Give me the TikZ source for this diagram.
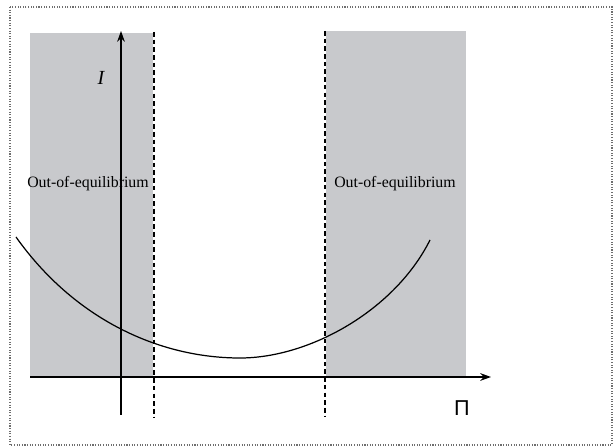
\documentclass[tikz,border=0pt]{standalone}
\usepackage{fontspec}
\setmainfont{Liberation Serif}
\newfontfamily\pifont{Liberation Sans}
\usetikzlibrary{arrows.meta}
\definecolor{zonegray}{RGB}{200,201,204}
\definecolor{framegray}{RGB}{110,110,110}

\begin{document}
\begin{tikzpicture}[
    x=0.65pt, y=-0.65pt,
    frame/.style={draw=framegray, densely dotted, line width=0.7pt},
    zone/.style={fill=zonegray},
    axis/.style={-{Stealth[length=7pt,width=5pt]}, line width=0.9pt},
    bound/.style={dash pattern=on 3pt off 2pt, line width=0.8pt},
    curve/.style={line width=0.8pt},
    zlab/.style={font=\fontsize{10.3}{12}\selectfont, inner sep=0pt},
    alab/.style={inner sep=0pt}
]
\useasboundingbox (0,0) rectangle (614,447);

% ============ frame and zones ============
\draw[frame] (10,7) rectangle (612,445);
\fill[zone] (30,33) rectangle (153,377);
\fill[zone] (326,31) rectangle (466,377);

\node[zlab] (left-zone) at (88,184) {Out-of-equilibrium};
\node[zlab] (right-zone) at (395,184) {Out-of-equilibrium};

% ============ boundaries ============
\coordinate (lb-top) at (154,32);
\coordinate (lb-bot) at (154,417);
\coordinate (rb-top) at (325,31);
\coordinate (rb-bot) at (325,417);
\draw[bound] (lb-top) -- (lb-bot);
\draw[bound] (rb-top) -- (rb-bot);

% ============ axes ============
\coordinate (x-start) at (30,377);
\coordinate (x-end) at (491,377);
\coordinate (y-start) at (121,415);
\coordinate (y-end) at (121,31);
\draw[axis, line width=1pt] (x-start) -- (x-end);
\draw[axis, line width=0.8pt] (y-start) -- (y-end);
\node[alab, font=\pifont\fontsize{14}{16}\selectfont] (pi-label) at (462,408) {Π};
\node[alab, font=\fontsize{13}{15}\selectfont\itshape] (i-label) at (101,78) {I};

% ============ curve ============
\coordinate (c-left) at (16,237);
\coordinate (c-min) at (240,358);
\coordinate (c-right) at (430,240);
\draw[curve] (c-left) .. controls (75,320) and (160,358) .. (c-min)
    .. controls (310,358) and (395,310) .. (c-right);

\end{tikzpicture}
\end{document}
